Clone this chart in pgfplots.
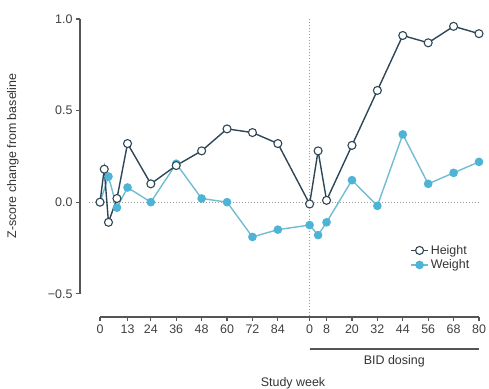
\documentclass[border=0pt]{standalone}
\usepackage{pgfplots}
\pgfplotsset{compat=1.18}
\usepackage{fontspec}
\setmainfont{Liberation Sans}
\definecolor{hgt}{HTML}{2E4656}
\definecolor{wgtm}{HTML}{4DB4D6}
\definecolor{wgtl}{HTML}{72BCD2}
\definecolor{axc}{HTML}{555555}
\begin{document}
\begin{tikzpicture}
\useasboundingbox (-80bp,-72bp) rectangle (409bp,317bp);
\begin{axis}[
  scale only axis, width=399bp, height=298bp,
  xmin=-9.45, xmax=179, ymin=-0.627, ymax=1.0,
  clip=false,
  axis lines=left,
  x axis line style={-, axc, line width=1.4pt, shorten <=20bp},
  y axis line style={-, axc, line width=1.4pt, shorten <=23bp},
  tick align=outside, major tick length=4bp,
  tick style={axc, line width=1.2pt},
  xtick={0,13,24,36,48,60,72,84,99,107,119,131,143,155,167,179},
  xticklabels={0,13,24,36,48,60,72,84,0,8,20,32,44,56,68,80},
  ytick={-0.5,0,0.5,1},
  yticklabels={−0.5,0.0,0.5,1.0},
  /pgf/number format/assume math mode=true,
  tick label style={font=\fontsize{12.5}{14}\selectfont, text=black!75},
  legend style={draw=none, fill=none, font=\fontsize{12.5}{14}\selectfont,
    at={(axis description cs:0.82,0.255)}, anchor=north west, row sep=0pt,
    text=black!80},
  legend cell align=left,
  reverse legend,
]
\draw[gray!80, dotted, line width=1pt] (axis cs:-5,0) -- (axis cs:179,0);
\draw[gray!80, dotted, line width=1pt] (axis cs:99,1.0) -- (axis cs:99,-0.627);
\addplot[wgtl, line width=1.4pt, mark=*, mark size=3.6bp, mark options={fill=wgtm, draw=wgtm}] coordinates {
(0,0) (4,0.14) (8,-0.03) (13,0.08) (24,0.0) (36,0.21) (48,0.02) (60,0.0) (72,-0.19) (84,-0.15)
(99,-0.125) (103,-0.18) (107,-0.11) (119,0.12) (131,-0.02) (143,0.37) (155,0.10) (167,0.16) (179,0.22)};
\addlegendentry{Weight}
\addplot[hgt, line width=1.4pt, mark=*, mark size=4bp, mark options={fill=white, line width=1.1pt}] coordinates {
(0,0) (2,0.18) (4,-0.11) (8,0.02) (13,0.32) (24,0.10) (36,0.20) (48,0.28) (60,0.40) (72,0.38) (84,0.32)
(99,-0.01) (103,0.28) (107,0.01) (119,0.31) (131,0.61) (143,0.91) (155,0.87) (167,0.96) (179,0.92)};
\addlegendentry{Height}
\draw[axc, line width=1.4pt] (axis cs:99,-0.802) -- (axis cs:179,-0.802);
\node[font=\fontsize{12.5}{14}\selectfont, text=black!80] at (axis cs:139,-0.868) {BID dosing};
\end{axis}
\node[font=\fontsize{12.5}{14}\selectfont, text=black!80] at (213bp,-66bp) {Study week};
\node[rotate=90, font=\fontsize{12.5}{14}\selectfont, text=black!80] at (-67bp,161bp) {Z-score change from baseline};
\end{tikzpicture}
\end{document}
